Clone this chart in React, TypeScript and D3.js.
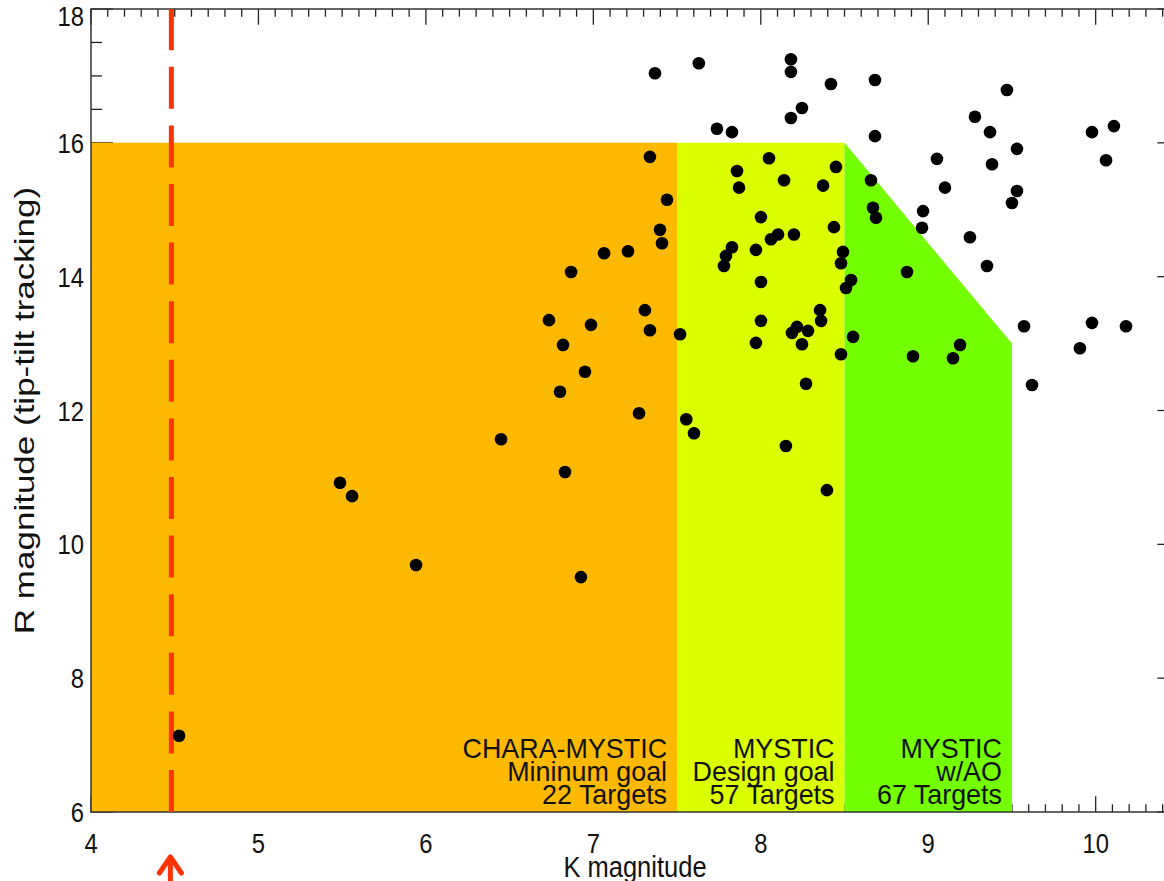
import React from 'react';
import * as d3 from 'd3';

// K magnitude, R magnitude of each target
const kMag = [
  4.526, 5.487, 5.559, 5.941, 6.449, 6.735, 6.819, 6.801, 6.867, 6.95,
  6.986, 7.064, 7.207, 7.273, 7.308, 7.338, 7.338, 7.398, 7.41, 7.44,
  7.518, 6.831, 6.926, 7.368, 7.63, 7.738, 7.828, 8.18, 8.18, 8.419,
  8.682, 8.246, 8.18, 8.682, 8.049, 7.858, 8.449, 8.139, 8.372, 7.87,
  8.001, 8.437, 8.103, 8.061, 8.198, 7.828, 7.792, 7.78, 7.971, 8.491,
  8.479, 8.001, 8.539, 8.509, 8.001, 8.354, 8.36, 8.216, 8.186, 8.282,
  7.971, 8.246, 8.551, 8.479, 8.27, 7.555, 7.601, 8.15, 8.395, 8.658,
  8.67, 8.688, 8.969, 8.963, 8.873, 8.909, 9.148, 9.19, 9.47, 9.279,
  9.369, 9.53, 9.978, 10.109, 9.052, 9.381, 10.062, 9.1, 9.53, 9.5,
  9.249, 9.351, 9.572, 9.978, 10.181, 9.906, 9.62,
];
const rMag = [
  7.14, 10.92, 10.72, 9.69, 11.57, 13.35, 12.98, 12.28, 14.07, 12.58,
  13.28, 14.35, 14.38, 11.96, 13.5, 13.2, 15.79, 14.7, 14.5, 15.15,
  13.14, 11.08, 9.51, 17.04, 17.19, 16.21, 16.16, 17.25, 17.06, 16.88,
  16.94, 16.52, 16.37, 16.1, 15.77, 15.58, 15.64, 15.44, 15.36, 15.33,
  14.89, 14.74, 14.63, 14.56, 14.63, 14.44, 14.31, 14.16, 14.4, 14.37,
  14.2, 13.92, 13.95, 13.83, 13.34, 13.5, 13.34, 13.25, 13.16, 13.19,
  13.01, 12.99, 13.1, 12.84, 12.4, 11.87, 11.66, 11.47, 10.81, 15.44,
  15.03, 14.88, 14.98, 14.73, 14.07, 12.81, 12.78, 12.98, 16.79, 16.39,
  16.16, 15.91, 16.16, 16.25, 15.76, 15.68, 15.74, 15.33, 15.28, 15.1,
  14.59, 14.16, 13.26, 13.31, 13.26, 12.93, 12.38,
];

// sensitivity regions (K, R corners)
const regionNames = ['minimum', 'design', 'ao'];
const regionColors = ['#fdb900', '#dcff00', '#74ff00'];
const regionCorners = [
  [[4, 6], [4, 16], [7.5, 16], [7.5, 6]],
  [[7.5, 6], [7.5, 16], [8.5, 16], [8.5, 6]],
  [[8.5, 6], [8.5, 16], [9.5, 13], [9.5, 6]],
];
const regionLabels = [
  ['CHARA-MYSTIC', 'Mininum goal', '22 Targets'],
  ['MYSTIC', 'Design goal', '57 Targets'],
  ['MYSTIC', 'w/AO', '67 Targets'],
];
const regionRight = [7.5, 8.5, 9.5];

const xTicks = [4, 5, 6, 7, 8, 9, 10];
const yTicks = [6, 8, 10, 12, 14, 16, 18];
const kLimit = 4.48;

const W = 1164;
const H = 881;
const FONT = '"Liberation Sans", Arial, Helvetica, sans-serif';
const SX = 0.85;

export default function App() {
  const x = d3.scaleLinear().domain([4, 10.5]).range([91, 1179.4]);
  const y = d3.scaleLinear().domain([6, 18]).range([812, 9]);
  const [x0, x1] = x.range();
  const [y0, y1] = y.range();

  const xMinor = d3.range(40, 106).map((v) => v / 10).filter((v) => v % 1 !== 0);
  const yMinor = d3.range(12, 37).map((v) => v / 2).filter((v) => v % 2 !== 0);

  const poly = d3.line<number[]>().x((d) => x(d[0])).y((d) => y(d[1]));
  const points = kMag.map((k, i) => ({ k, r: rMag[i] }));
  const tick = '#222';

  return (
    <svg width={W} height={H} style={{ position: 'absolute', left: 0, top: 0, background: '#fff' }}>
      {/* ticks */}
      <g stroke={tick} strokeWidth={1.3}>
        {xMinor.map((v) => (
          <g key={'xm' + v}>
            <line x1={x(v)} x2={x(v)} y1={y0} y2={y0 - 7.7} />
            <line x1={x(v)} x2={x(v)} y1={y1} y2={y1 + 7.7} />
          </g>
        ))}
        {xTicks.map((v) => (
          <g key={'xM' + v}>
            <line x1={x(v)} x2={x(v)} y1={y0} y2={y0 - 15.7} />
            <line x1={x(v)} x2={x(v)} y1={y1} y2={y1 + 15.7} />
          </g>
        ))}
        {yMinor.map((v) => (
          <g key={'ym' + v}>
            <line x1={x0} x2={x0 + 11} y1={y(v)} y2={y(v)} />
            <line x1={x1} x2={x1 - 11} y1={y(v)} y2={y(v)} />
          </g>
        ))}
        {yTicks.map((v) => (
          <g key={'yM' + v}>
            <line x1={x0} x2={x0 + 22} y1={y(v)} y2={y(v)} />
            <line x1={x1} x2={x1 - 22} y1={y(v)} y2={y(v)} />
          </g>
        ))}
      </g>

      {/* regions */}
      {regionCorners.map((c, i) => (
        <path key={regionNames[i]} d={poly(c) + 'Z'} fill={regionColors[i]} />
      ))}

      {/* frame */}
      <rect x={x0} y={y1} width={x1 - x0} height={y0 - y1} fill="none" stroke="#333" strokeWidth={1.5} />

      {/* tick labels */}
      <g fontFamily={FONT} fontSize={28} fill="#111">
        {xTicks.map((v) => (
          <text key={'xl' + v} transform={`translate(${x(v)},853) scale(${SX},1)`} textAnchor="middle">
            {v}
          </text>
        ))}
        {yTicks.map((v) => (
          <text key={'yl' + v} transform={`translate(84,${Math.max(y(v) + 10, 26)}) scale(${SX},1)`} textAnchor="end">
            {v}
          </text>
        ))}
      </g>

      {/* axis titles */}
      <text
        transform={`translate(635,877) scale(${SX},1)`}
        textAnchor="middle"
        fontFamily={FONT}
        fontSize={30}
        fill="#111"
      >
        K magnitude
      </text>
      <text
        transform={`translate(34,${(y0 + y1) / 2}) scale(0.8,1) rotate(-90)`}
        textAnchor="middle"
        fontFamily={FONT}
        fontSize={35}
        fill="#111"
      >
        R magnitude (tip-tilt tracking)
      </text>

      {/* K limit line */}
      <line
        x1={x(kLimit)}
        x2={x(kLimit)}
        y1={y0}
        y2={y1}
        stroke="#ff3300"
        strokeWidth={5}
        strokeDasharray="42 16.6"
      />
      <path
        d={`M${x(kLimit) - 1},${H + 2} L${x(kLimit) - 1},858 M${x(kLimit) - 12},873 L${x(kLimit) - 1},857 L${x(kLimit) + 10},873`}
        fill="none"
        stroke="#ff3300"
        strokeWidth={5}
        strokeLinecap="round"
        strokeLinejoin="round"
      />

      {/* targets */}
      <g fill="#000">
        {points.map((p, i) => (
          <circle key={i} cx={x(p.k)} cy={y(p.r)} r={6.3} />
        ))}
      </g>

      {/* region labels */}
      <g fontFamily={FONT} fontSize={28} fill="#111" textAnchor="end">
        {regionLabels.map((lines, i) =>
          lines.map((t, j) => (
            <text key={i + '-' + j} transform={`translate(${x(regionRight[i]) - 10},${758 + j * 23}) scale(0.96,1)`}>
              {t}
            </text>
          ))
        )}
      </g>
    </svg>
  );
}
